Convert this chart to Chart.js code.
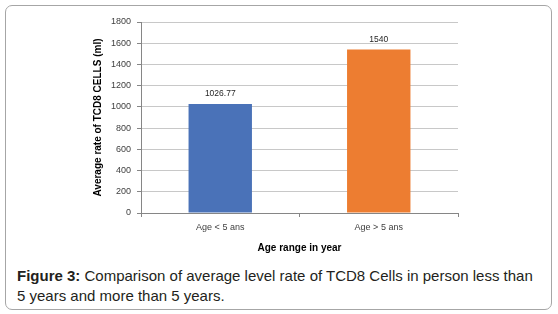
<!DOCTYPE html>
<html><head><meta charset="utf-8">
<script src="https://cdn.jsdelivr.net/npm/chart.js@4"></script>
<style>
html,body{margin:0;padding:0;background:#fff;width:558px;height:314px;overflow:hidden;}
#box{position:absolute;left:5px;top:5px;width:545px;height:303px;border:1px solid #a6a6a6;border-radius:7px;}
#wrap{position:absolute;left:0;top:0;width:558px;height:254px;}
#cap{position:absolute;left:17px;top:266px;width:524px;font-family:"Liberation Sans",Arial,sans-serif;font-size:15px;line-height:20px;color:#231f20;}
</style></head><body>
<div id="box"></div>
<div id="wrap"><canvas id="c" width="558" height="254"></canvas></div>
<div id="cap"><b>Figure 3:</b> Comparison of average level rate of TCD8 Cells in person less than 5 years and more than 5 years.</div>
<script>
const categories = ["Age < 5 ans", "Age > 5 ans"];
const values = [1026.77, 1540];
const valueLabels = ["1026.77", "1540"];
const barColors = ["#4A72B8", "#ED7D31"];
const yTitle = "Average rate of TCD8 CELLS (ml)";
const xTitle = "Age range in year";

const labelPlugin = {
  id: 'vlabels',
  afterDatasetsDraw(chart) {
    const ctx = chart.ctx;
    const meta = chart.getDatasetMeta(0);
    ctx.save();
    ctx.font = '8.5px "Liberation Sans", Arial, sans-serif';
    ctx.fillStyle = '#262626';
    ctx.textAlign = 'center';
    ctx.textBaseline = 'bottom';
    meta.data.forEach((bar, i) => {
      ctx.fillText(valueLabels[i], bar.x, bar.y - 6);
    });
    ctx.restore();
  }
};

new Chart(document.getElementById('c'), {
  type: 'bar',
  data: {
    labels: categories,
    datasets: [{ data: values, backgroundColor: barColors, barPercentage: 0.4, categoryPercentage: 1.0 }]
  },
  options: {
    responsive: false,
    animation: false,
    devicePixelRatio: 1,
    layout: { padding: { left: 92, right: 100, top: 22, bottom: 0 } },
    plugins: { legend: { display: false }, tooltip: { enabled: false } },
    scales: {
      y: {
        min: 0, max: 1800,
        ticks: { stepSize: 200, padding: 6, color: '#404040', font: { family: '"Liberation Sans", Arial, sans-serif', size: 9 },
                 callback: (v) => String(v) },
        grid: { color: '#c8c8c8', tickLength: 4, tickColor: '#868686' },
        border: { color: '#868686' },
        title: { display: true, text: yTitle, color: '#000', padding: 0, font: { family: '"Liberation Sans", Arial, sans-serif', size: 10, weight: 'bold' } },
        afterFit(s) { s.width = 49; }
      },
      x: {
        ticks: { padding: 5, color: '#404040', font: { family: '"Liberation Sans", Arial, sans-serif', size: 9 } },
        grid: { drawOnChartArea: false, tickLength: 4, color: '#868686', offset: true },
        border: { color: '#868686' },
        title: { display: true, text: xTitle, color: '#000', padding: 0, font: { family: '"Liberation Sans", Arial, sans-serif', size: 10, weight: 'bold' } },
        afterFit(s) { s.height = 41; }
      }
    }
  },
  plugins: [labelPlugin]
});
</script>
</body></html>
